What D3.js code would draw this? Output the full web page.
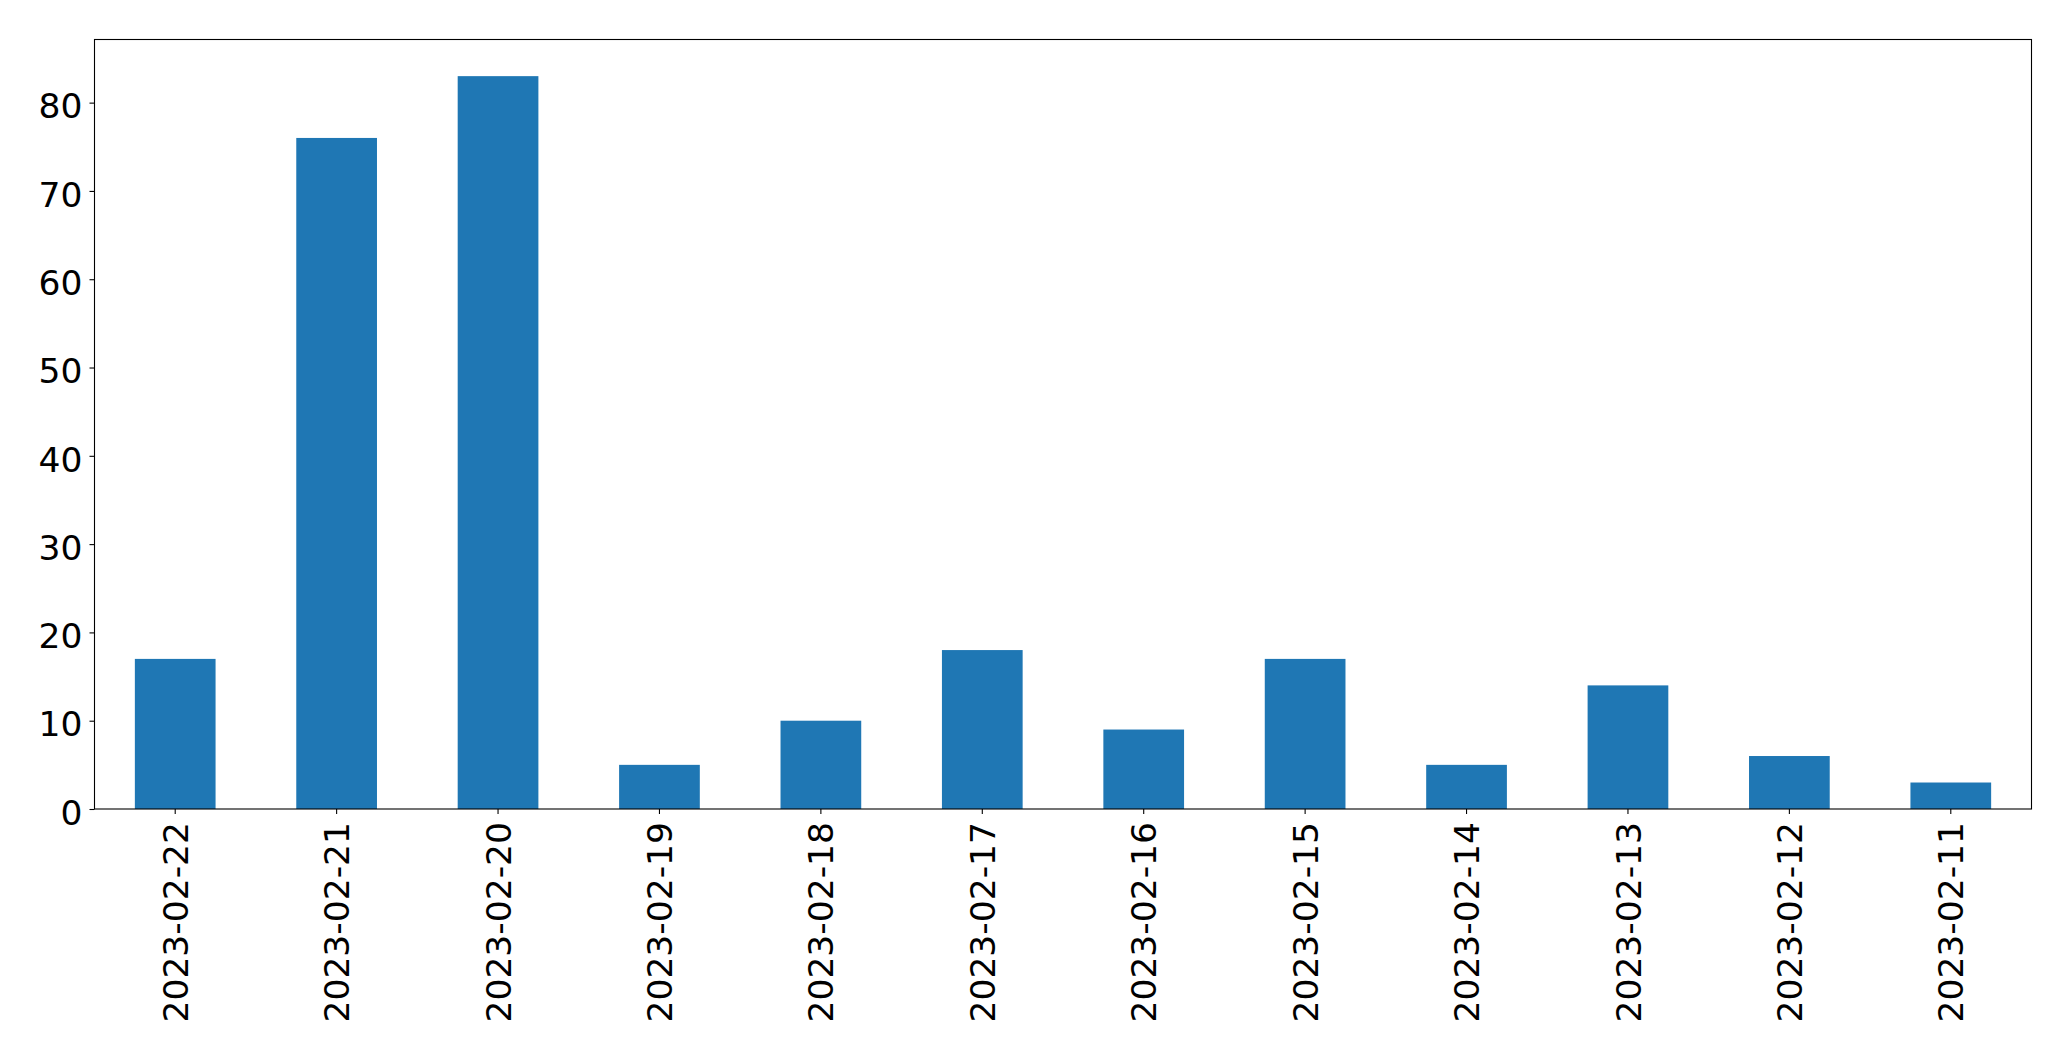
<!DOCTYPE html>
<html>
<head>
<meta charset="utf-8">
<script src="https://cdn.jsdelivr.net/npm/d3@7"></script>
<style>
html,body{margin:0;padding:0;background:#fff;}
svg{display:block;}
</style>
</head>
<body>
<script>
const categories = ["2023-02-22","2023-02-21","2023-02-20","2023-02-19","2023-02-18","2023-02-17","2023-02-16","2023-02-15","2023-02-14","2023-02-13","2023-02-12","2023-02-11"];
const values = [17, 76, 83, 5, 10, 18, 9, 17, 5, 14, 6, 3];
const yTicks = [0, 10, 20, 30, 40, 50, 60, 70, 80];

const W = 2071, H = 1061;
const margin = {left: 94.5, top: 39.5, right: W - 2031.5, bottom: H - 809};
const iw = W - margin.left - margin.right;
const ih = H - margin.top - margin.bottom;
const fontSize = 34.5;

const svg = d3.select("body").append("svg").attr("width", W).attr("height", H);
const g = svg.append("g").attr("transform", `translate(${margin.left},${margin.top})`);

const x = d3.scaleBand().domain(categories).range([0, iw]).paddingInner(0.5).paddingOuter(0.25);
const y = d3.scaleLinear().domain([0, d3.max(values) * 1.05]).range([ih, 0]);

g.selectAll("rect.bar").data(values).join("rect")
  .attr("class", "bar")
  .attr("x", (d, i) => x(categories[i]))
  .attr("width", x.bandwidth())
  .attr("y", d => y(d))
  .attr("height", d => y(0) - y(d))
  .attr("fill", "#1f77b4");

// y axis
const ya = g.append("g").call(d3.axisLeft(y).tickValues(yTicks).tickSize(5).tickPadding(7).tickFormat(d3.format("d")));
ya.select(".domain").remove();
ya.selectAll(".tick line").attr("stroke", "#000").attr("stroke-width", 1.1);
ya.selectAll(".tick text").attr("font-family", "DejaVu Sans").attr("font-size", fontSize).attr("fill", "#000").attr("dy", "0.44em");

// x axis
const xa = g.append("g").attr("transform", `translate(0,${ih})`).call(d3.axisBottom(x).tickSize(5).tickPadding(0));
xa.select(".domain").remove();
xa.selectAll(".tick line").attr("stroke", "#000").attr("stroke-width", 1.1);
xa.selectAll(".tick text")
  .attr("font-family", "DejaVu Sans").attr("font-size", fontSize).attr("fill", "#000")
  .attr("transform", "rotate(-90)")
  .attr("x", -13).attr("y", 0).attr("dy", "0.365em")
  .attr("text-anchor", "end");

// frame
g.append("rect").attr("x", 0).attr("y", 0).attr("width", iw).attr("height", ih)
  .attr("fill", "none").attr("stroke", "#000").attr("stroke-width", 1.1);
</script>
</body>
</html>
